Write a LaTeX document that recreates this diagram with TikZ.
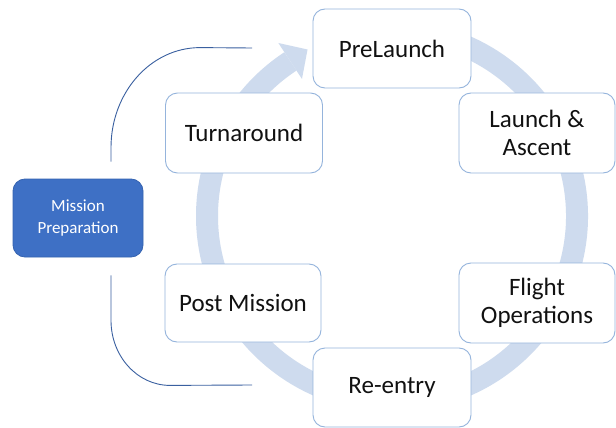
\documentclass[tikz,border=0pt]{standalone}
\usepackage{fontspec}
\setmainfont{Carlito}
\usetikzlibrary{calc}
\definecolor{boxline}{HTML}{95B4DC}
\definecolor{ringcol}{HTML}{CEDBEE}
\definecolor{prepfill}{HTML}{3E70C5}
\definecolor{prepline}{HTML}{3563B0}
\definecolor{conncol}{HTML}{3A60A0}
\definecolor{txt}{HTML}{111111}
\tikzset{
  stage/.style={draw=boxline, line width=0.9pt, fill=white, rounded corners=12pt,
    align=center, text=txt, font=\fontsize{25}{28.5}\selectfont, inner sep=0pt},
  prep/.style={draw=prepline, line width=0.8pt, fill=prepfill, rounded corners=12pt,
    align=center, text=white, font=\fontsize{17}{21.5}\selectfont, inner sep=0pt},
  ring/.style={draw=ringcol, line width=22pt},
  ringhead/.style={fill=ringcol, draw=none},
  conn/.style={draw=conncol, line width=0.9pt}
}
\begin{document}
\begin{tikzpicture}[x=1pt,y=1pt]
\useasboundingbox[fill=white] (0,0) rectangle (616,-428);
% circular arrow
\coordinate (C) at (392,-216);
\draw[ring] ($(C)+(100:185pt)$) arc[start angle=100, end angle=-236.7, radius=185pt];
\fill[ringhead] ($(C)+(123.3:207pt)$) -- ($(C)+(116.9:186.7pt)$) -- ($(C)+(123.3:164pt)$) -- cycle;
% stages
\node[stage, minimum width=158pt, minimum height=79pt] (pre) at (392,-48.5) {PreLaunch};
\node[stage, minimum width=156pt, minimum height=80pt] (launch) at (537,-133) {Launch \&\\Ascent};
\node[stage, minimum width=156pt, minimum height=80pt] (flight) at (537,-303) {Flight\\Operations};
\node[stage, minimum width=158pt, minimum height=79pt] (reentry) at (392,-387.5) {Re-entry};
\node[stage, minimum width=156pt, minimum height=78pt] (post) at (243,-303) {Post Mission};
\node[stage, minimum width=157pt, minimum height=80pt] (turn) at (244,-133) {Turnaround};
\node[prep, minimum width=130pt, minimum height=78pt] (prep) at (78,-218) {Mission\\Preparation};
% connectors from Mission Preparation
\coordinate (topend) at (252,-48);
\coordinate (botend) at (252,-385);
\draw[conn] ([xshift=33pt,yshift=17pt]prep.north) -- ++(0,14)
  arc[start angle=180, end angle=90, x radius=89pt, y radius=100pt] -- (topend);
\draw[conn] ([xshift=33pt,yshift=-18pt]prep.south) -- ++(0,-45)
  arc[start angle=180, end angle=270, x radius=59pt, y radius=65pt] -- (botend);
\end{tikzpicture}
\end{document}
